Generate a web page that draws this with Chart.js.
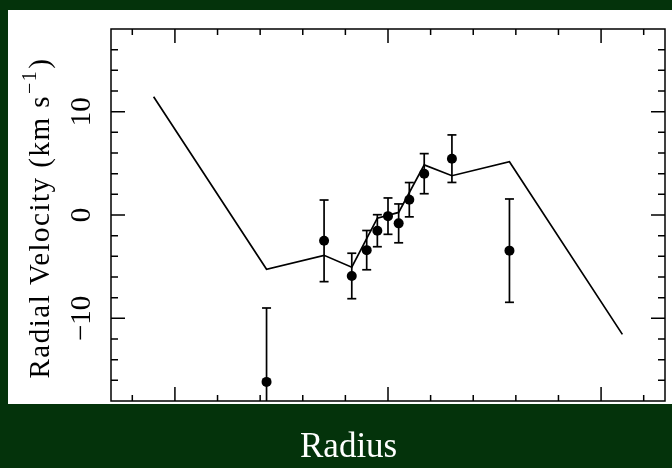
<!DOCTYPE html>
<html>
<head>
<meta charset="utf-8">
<script src="https://cdn.jsdelivr.net/npm/chart.js@4.4.1/dist/chart.umd.min.js"></script>
<style>
  html, body { margin: 0; padding: 0; background: #04330b; }
  #wrap { width: 672px; height: 468px; }
</style>
</head>
<body>
<div id="wrap"><canvas id="rvChart" width="672" height="468"></canvas></div>
<script>
// measured radial velocities with 1-sigma errors
const radius = [-2.85, -1.5, -0.85, -0.5, -0.25, 0, 0.25, 0.5, 0.85, 1.5, 2.85];
const velocity = [-16.15, -2.5, -5.9, -3.4, -1.52, -0.11, -0.81, 1.48, 4.0, 5.45, -3.45];
const velocityErr = [7.15, 3.95, 2.2, 1.9, 1.55, 1.76, 1.88, 1.66, 1.94, 2.3, 5.0];

// model rotation curve
const modelRadius = [-5.5, -2.85, -1.5, -0.85, -0.25, 0.25, 0.85, 1.5, 2.85, 5.5];
const modelVelocity = [11.45, -5.25, -3.9, -5.05, -0.3, 0.25, 4.85, 3.8, 5.15, -11.55];

// tick positions and the labelled values
const xTickValues = [-6, -5, -4, -3, -2, -1, 0, 1, 2, 3, 4, 5, 6];
const yTickValues = [-16, -14, -12, -10, -8, -6, -4, -2, 0, 2, 4, 6, 8, 10, 12, 14, 16];
const yLabelValues = [-10, 0, 10];

const serif = '"Liberation Serif", "Times New Roman", serif';

// error bars: low/high pairs split by nulls
const errBars = [];
radius.forEach(function(r, i) {
  errBars.push({ x: r, y: velocity[i] - velocityErr[i] });
  errBars.push({ x: r, y: velocity[i] + velocityErr[i] });
  errBars.push({ x: r, y: null });
});

const panel = {
  id: 'panel',
  beforeDraw: function(chart) {
    const ctx = chart.ctx;
    ctx.save();
    ctx.fillStyle = '#04330b';
    ctx.fillRect(0, 0, chart.width, chart.height);
    ctx.fillStyle = '#ffffff';
    ctx.fillRect(8, 10, chart.width - 8, 394);
    ctx.restore();
  }
};

// box round the plot with inward tick marks on all sides
const frame = {
  id: 'frame',
  afterDatasetsDraw: function(chart) {
    const ctx = chart.ctx;
    const a = chart.chartArea;
    const xs = chart.scales.x, ys = chart.scales.y;
    ctx.save();
    ctx.strokeStyle = '#000';
    ctx.lineWidth = 1.5;
    ctx.strokeRect(a.left, a.top, a.right - a.left, a.bottom - a.top);
    ctx.beginPath();
    xs.ticks.forEach(function(t) {
      const px = xs.getPixelForValue(t.value);
      const len = t.value % 5 === 0 ? 14 : 6;
      ctx.moveTo(px, a.bottom); ctx.lineTo(px, a.bottom - len);
      ctx.moveTo(px, a.top); ctx.lineTo(px, a.top + len);
    });
    ys.ticks.forEach(function(t) {
      const py = ys.getPixelForValue(t.value);
      const len = t.value % 10 === 0 ? 14 : 7;
      ctx.moveTo(a.left, py); ctx.lineTo(a.left + len, py);
      ctx.moveTo(a.right, py); ctx.lineTo(a.right - len, py);
    });
    ctx.stroke();
    ctx.restore();
  }
};

const titles = {
  id: 'titles',
  afterDraw: function(chart) {
    const ctx = chart.ctx;
    ctx.save();
    // y title with superscript
    ctx.translate(49, 218);
    ctx.rotate(-Math.PI / 2);
    ctx.fillStyle = '#000';
    ctx.textBaseline = 'alphabetic';
    ctx.letterSpacing = '1.5px';
    const big = '29px ' + serif, small = '20px ' + serif;
    const main = 'Radial Velocity (km s', sup = '\u22121', close = ')';
    ctx.font = big;
    const w1 = ctx.measureText(main).width, w3 = ctx.measureText(close).width;
    ctx.font = small;
    const w2 = ctx.measureText(sup).width;
    let x = -(w1 + w2 + w3 + 2) / 2;
    ctx.font = big;
    ctx.fillText(main, x, 0);
    x += w1 + 1;
    ctx.font = small;
    ctx.fillText(sup, x, -13);
    x += w2 + 1;
    ctx.font = big;
    ctx.fillText(close, x, 0);
    ctx.restore();

    ctx.save();
    ctx.fillStyle = '#fff';
    ctx.font = '35px ' + serif;
    ctx.textBaseline = 'alphabetic';
    ctx.fillText('Radius', 300, 457);
    ctx.restore();
  }
};

new Chart(document.getElementById('rvChart'), {
  type: 'scatter',
  data: {
    datasets: [
      {
        label: 'model',
        data: modelRadius.map(function(r, i) { return { x: r, y: modelVelocity[i] }; }),
        showLine: true,
        borderColor: '#000',
        borderWidth: 1.7,
        pointRadius: 0
      },
      {
        label: 'errors',
        data: errBars,
        showLine: true,
        spanGaps: false,
        borderColor: '#000',
        borderWidth: 1.7,
        pointStyle: 'line',
        pointRadius: 4.5,
        pointBorderWidth: 1.7,
        pointBorderColor: '#000'
      },
      {
        label: 'velocity',
        data: radius.map(function(r, i) { return { x: r, y: velocity[i] }; }),
        pointRadius: 5,
        pointBackgroundColor: '#000',
        pointBorderWidth: 0
      }
    ]
  },
  options: {
    responsive: false,
    animation: false,
    devicePixelRatio: 1,
    layout: { padding: { left: 0, top: 29, right: 7, bottom: 0 } },
    plugins: { legend: { display: false }, tooltip: { enabled: false } },
    scales: {
      x: {
        type: 'linear',
        min: -6.5,
        max: 6.5,
        ticks: { display: false },
        afterBuildTicks: function(s) {
          s.ticks = xTickValues.map(function(v) { return { value: v }; });
        },
        grid: { display: false },
        border: { display: false },
        afterFit: function(s) { s.height = 67; }
      },
      y: {
        type: 'linear',
        min: -18,
        max: 18,
        afterBuildTicks: function(s) {
          s.ticks = yTickValues.map(function(v) { return { value: v }; });
        },
        ticks: {
          autoSkip: false,
          minRotation: 90,
          maxRotation: 90,
          crossAlign: 'center',
          padding: -2,
          color: '#000',
          font: { family: serif, size: 29 },
          callback: function(v) {
            if (yLabelValues.indexOf(v) < 0) return '';
            return v < 0 ? '\u2212' + (-v) : String(v);
          }
        },
        grid: { display: false },
        border: { display: false },
        afterFit: function(s) { s.width = 111; }
      }
    }
  },
  plugins: [panel, frame, titles]
});
</script>
</body>
</html>
